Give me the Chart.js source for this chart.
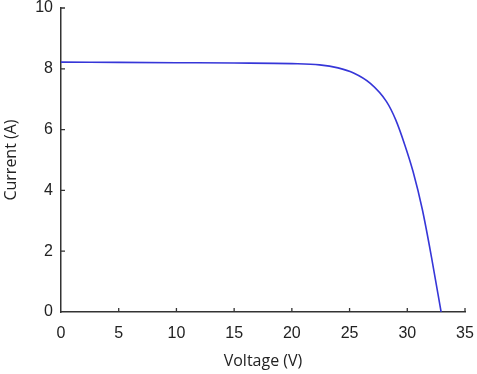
<!DOCTYPE html>
<html>
<head>
<meta charset="utf-8">
<script src="https://cdn.jsdelivr.net/npm/chart.js@4.4.0/dist/chart.umd.min.js"></script>
<style>
  html, body { margin: 0; padding: 0; background: #fff; }
  #wrap { width: 477px; height: 374px; }
</style>
</head>
<body>
<div id="wrap"><canvas id="ivChart" width="477" height="374"></canvas></div>
<script>
// I-V curve
const voltage = [0, 5, 10, 15, 20, 22.4, 24, 25.3, 26.8, 28.2, 29, 29.8, 30.5, 31.3, 32.1, 32.93];
const current = [8.22, 8.21, 8.2, 8.19, 8.17, 8.13, 8.03, 7.87, 7.52, 6.92, 6.32, 5.48, 4.62, 3.38, 1.8, 0];
const xTicks = [0, 5, 10, 15, 20, 25, 30, 35];
const yTicks = [0, 2, 4, 6, 8, 10];

const points = voltage.map((v, i) => ({ x: v, y: current[i] }));

// small inward tick marks, like the original figure
const inwardTicks = {
  id: 'inwardTicks',
  afterDraw(chart) {
    const { ctx, scales: { x, y } } = chart;
    ctx.save();
    ctx.strokeStyle = '#333';
    ctx.lineWidth = 1.3;
    ctx.beginPath();
    xTicks.forEach(t => {
      if (t === 0) return;
      const px = x.getPixelForValue(t);
      ctx.moveTo(px, y.bottom);
      ctx.lineTo(px, y.bottom - 4);
    });
    yTicks.forEach(t => {
      if (t === 0) return;
      const py = y.getPixelForValue(t);
      ctx.moveTo(x.left, py);
      ctx.lineTo(x.left + 4, py);
    });
    ctx.stroke();
    ctx.restore();
  }
};

const tickFont = { family: "'Liberation Sans', Arial, sans-serif", size: 16 };
const titleFont = { family: "'Open Sans', sans-serif", size: 16 };

new Chart(document.getElementById('ivChart'), {
  type: 'scatter',
  data: {
    datasets: [{
      data: points,
      showLine: true,
      borderColor: '#3636d8',
      borderWidth: 1.6,
      pointRadius: 0,
      cubicInterpolationMode: 'monotone',
      fill: false
    }]
  },
  options: {
    responsive: false,
    animation: false,
    layout: { padding: { top: 8, right: 12, left: 0, bottom: 0 } },
    plugins: { legend: { display: false }, tooltip: { enabled: false } },
    scales: {
      x: {
        type: 'linear',
        min: 0, max: 35,
        afterBuildTicks: s => { s.ticks = xTicks.map(v => ({ value: v })); },
        afterFit: s => { s.height = 62; s.paddingLeft = 0; s.paddingRight = 0; },
        border: { display: true, color: '#333', width: 1.5 },
        grid: { display: false, drawTicks: false, tickLength: 0 },
        ticks: { color: '#222', font: tickFont, padding: 12, maxRotation: 0 },
        title: { display: true, text: 'Voltage (V)', color: '#222', font: titleFont, padding: { top: 2, bottom: 3 } }
      },
      y: {
        type: 'linear',
        min: 0, max: 10,
        afterBuildTicks: s => { s.ticks = yTicks.map(v => ({ value: v })); },
        afterFit: s => { s.width = 61; s.paddingTop = 0; s.paddingBottom = 0; },
        border: { display: true, color: '#333', width: 1.5 },
        grid: { display: false, drawTicks: false, tickLength: 0 },
        ticks: { color: '#222', font: tickFont, padding: 8 },
        title: { display: true, text: 'Current (A)', color: '#222', font: titleFont, padding: { top: 2, bottom: 4 } }
      }
    }
  },
  plugins: [inwardTicks]
});
</script>
</body>
</html>
